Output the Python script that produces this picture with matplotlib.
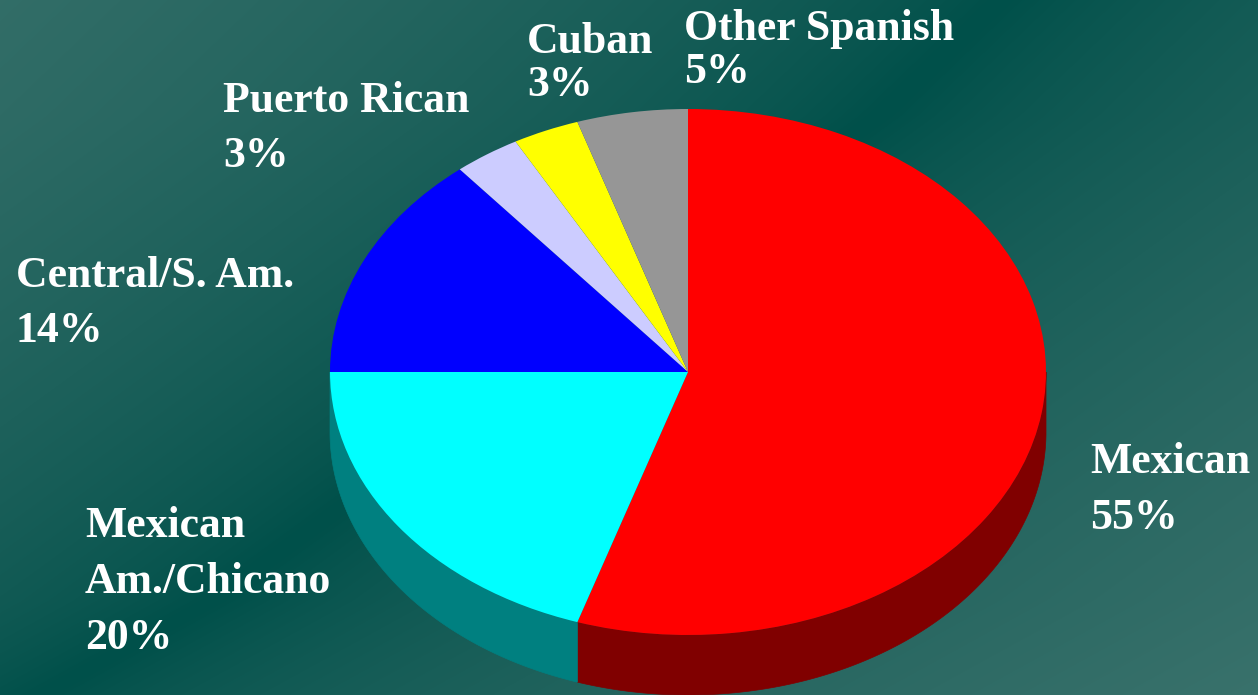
import numpy as np
import matplotlib.pyplot as plt
from matplotlib.patches import Polygon

# Hispanic origin groups and their shares (%)
groups = ['Mexican', 'Mexican\nAm./Chicano', 'Central/S. Am.', 'Puerto Rican', 'Cuban', 'Other Spanish']
shares = [55, 20, 14, 3, 3, 5]
top_colors = ['#ff0000', '#00ffff', '#0000ff', '#ccccff', '#ffff00', '#969696']
side_colors = ['#800000', '#008080', '#000080', '#8080a0', '#808000', '#606060']

# label anchor (left x, first baseline, line step) in pixels
label_pos = [(1090, 473, 56), (85, 537, 56), (16, 287, 55),
             (223, 112, 55), (527, 53, 43), (684, 40, 43)]

W, H = 1258, 695
CX, CY, RX, RY = 688, 372, 358, 263
DEPTH = 60


def to_data(px, py):
    return (px - CX) / RX, (CY - py) / RY


fig = plt.figure(figsize=(W / 100, H / 100), dpi=100)
ax = fig.add_axes([0, 0, 1, 1])

x0, y1 = to_data(0, 0)
x1, y0 = to_data(W, H)

# background: teal gradient, dark band running diagonally
yy, xx = np.mgrid[0:H, 0:W].astype(float)
band = np.interp(yy, [0, 115, 600, 695], [1000, 880, 213, 40])
dist = np.sqrt((xx - band) ** 2 + 40 ** 2) - 40
f = np.clip(dist / 1200, 0, 1) ** 0.65
dark = np.array([0, 80, 74]) / 255
light = np.array([58, 114, 108]) / 255
bg = dark + f[..., None] * (light - dark)
ax.imshow(bg, extent=(x0, x1, y0, y1), aspect='auto', zorder=0)

wedges, _ = ax.pie(shares, colors=top_colors, startangle=90, counterclock=False,
                   radius=1, wedgeprops=dict(linewidth=0, zorder=3))

# side walls for the front half of the disc
d = DEPTH / RY
for w, sc in zip(wedges, side_colors):
    t1, t2 = w.theta1, w.theta2
    for off in (-360, 0, 360):
        a = max(t1 + off, 180)
        b = min(t2 + off, 360)
        if b <= a:
            continue
        t = np.radians(np.linspace(a, b, 200))
        top = np.column_stack([np.cos(t), np.sin(t)])
        bot = np.column_stack([np.cos(t[::-1]), np.sin(t[::-1]) - d])
        ax.add_patch(Polygon(np.vstack([top, bot]), closed=True, facecolor=sc,
                             edgecolor=sc, linewidth=0.5, zorder=2))

ax.set_aspect('auto')
ax.set_xlim(x0, x1)
ax.set_ylim(y0, y1)
ax.axis('off')

for name, val, (lx, ly, step) in zip(groups, shares, label_pos):
    lines = name.split('\n') + [f'{val}%']
    for i, line in enumerate(lines):
        tx, ty = to_data(lx, ly + i * step)
        ax.text(tx, ty, line, color='white', fontsize=31.5, fontweight='bold',
                family='Liberation Serif', ha='left', va='baseline', zorder=5)

fig.savefig('out.png', dpi=100)
